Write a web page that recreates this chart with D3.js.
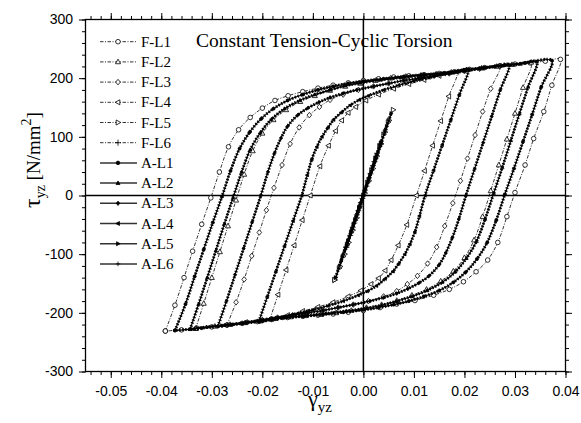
<!DOCTYPE html>
<html>
<head>
<meta charset="utf-8">
<script src="https://cdn.jsdelivr.net/npm/d3@7"></script>
<style>
  body { margin: 0; background: #fff; }
  svg { display: block; }
</style>
</head>
<body>
<script>
// loops: [gamma_yz, tau_yz], upper branch then lower branch
const fL1 = [[-0.0392,-231],[-0.0373,-187],[-0.0355,-140],[-0.0338,-95],[-0.0320,-49],[-0.0302,-4],[-0.0285,40],[-0.0267,83],[-0.0247,112],[-0.0224,133],[-0.0200,149],[-0.0175,162],[-0.0149,170],[-0.0120,177],[-0.0090,183],[-0.0060,188],[-0.0030,192],[0.0000,196],[0.0030,199],[0.0060,202],[0.0090,204],[0.0120,206],[0.0150,208],[0.0180,211],[0.0210,215],[0.0240,218],[0.0270,221],[0.0300,224],[0.0330,226],[0.0360,229],[0.0390,232],
  [0.0373,188],[0.0357,143],[0.0337,97],[0.0320,52],[0.0300,5],[0.0284,-36],[0.0266,-80],[0.0246,-110],[0.0223,-130],[0.0198,-147],[0.0170,-160],[0.0139,-170],[0.0102,-179],[0.0066,-185],[0.0033,-191],[0.0000,-196],[-0.0030,-199],[-0.0060,-202],[-0.0090,-204],[-0.0120,-206],[-0.0150,-208],[-0.0180,-211],[-0.0210,-215],[-0.0240,-218],[-0.0270,-221],[-0.0300,-224],[-0.0330,-226],[-0.0360,-229],[-0.0392,-231]];

const fL2 = [[-0.0332,-227],[-0.0316,-184],[-0.0300,-140],[-0.0284,-96],[-0.0268,-52],[-0.0252,-8],[-0.0236,36],[-0.0219,76],[-0.0200,106],[-0.0178,129],[-0.0153,146],[-0.0125,160],[-0.0096,170],[-0.0066,179],[-0.0036,186],[-0.0006,191],[0.0024,196],[0.0054,200],[0.0084,203],[0.0114,205],[0.0144,207],[0.0174,210],[0.0204,214],[0.0234,217],[0.0264,220],[0.0294,223],[0.0332,227],
  [0.0316,184],[0.0300,140],[0.0284,96],[0.0268,52],[0.0252,8],[0.0236,-36],[0.0219,-76],[0.0200,-106],[0.0178,-129],[0.0153,-146],[0.0125,-160],[0.0096,-170],[0.0066,-179],[0.0036,-186],[0.0006,-191],[-0.0024,-196],[-0.0054,-200],[-0.0084,-203],[-0.0114,-205],[-0.0144,-207],[-0.0174,-210],[-0.0204,-214],[-0.0234,-217],[-0.0264,-220],[-0.0294,-223],[-0.0332,-227]];

const fL3 = [[-0.0270,-221],[-0.0252,-182],[-0.0236,-143],[-0.0221,-103],[-0.0206,-63],[-0.0192,-25],[-0.0177,13],[-0.0161,52],[-0.0145,88],[-0.0127,116],[-0.0107,137],[-0.0087,151],[-0.0066,163],[-0.0040,172],[-0.0010,180],[0.0020,186],[0.0050,191],[0.0080,196],[0.0110,200],[0.0140,204],[0.0170,208],[0.0200,212],[0.0230,216],[0.0270,221],
  [0.0252,182],[0.0236,143],[0.0221,103],[0.0206,63],[0.0192,25],[0.0177,-13],[0.0161,-52],[0.0145,-88],[0.0127,-116],[0.0107,-137],[0.0087,-151],[0.0066,-163],[0.0040,-172],[0.0010,-180],[-0.0020,-186],[-0.0050,-191],[-0.0080,-196],[-0.0110,-200],[-0.0140,-204],[-0.0170,-208],[-0.0200,-212],[-0.0230,-216],[-0.0270,-221]];

const fL4 = [[-0.0185,-211],[-0.0169,-169],[-0.0153,-127],[-0.0137,-85],[-0.0121,-42],[-0.0105,0],[-0.0086,50],[-0.0069,85],[-0.0055,110],[-0.0043,128],[-0.0030,141],[-0.0015,151],[0.0005,162],[0.0030,172],[0.0060,182],[0.0090,190],[0.0120,197],[0.0150,204],[0.0185,211],
  [0.0169,169],[0.0153,127],[0.0137,85],[0.0121,42],[0.0105,0],[0.0086,-50],[0.0069,-85],[0.0055,-110],[0.0043,-128],[0.0030,-141],[0.0015,-151],[-0.0005,-162],[-0.0030,-172],[-0.0060,-182],[-0.0090,-190],[-0.0120,-197],[-0.0150,-204],[-0.0185,-211]];

const fL5 = [[-0.0057,-144],[-0.0048,-124],[-0.0040,-104],[-0.0032,-84],[-0.0024,-63],[-0.0016,-42],[-0.0008,-21],[0.0000,0],[0.0008,22],[0.0016,43],[0.0024,63],[0.0032,84],[0.0040,104],[0.0049,125],[0.0059,146],
  [0.0051,128],[0.0043,108],[0.0035,88],[0.0027,67],[0.0019,46],[0.0011,25],[0.0003,4],[-0.0005,-17],[-0.0013,-38],[-0.0021,-59],[-0.0029,-80],[-0.0037,-100],[-0.0046,-121],[-0.0057,-144]];

const fL6 = [[-0.0034,-88],[-0.0026,-68],[-0.0018,-47],[-0.0010,-26],[-0.0002,-5],[0.0006,16],[0.0014,37],[0.0022,58],[0.0034,88],
  [0.0027,72],[0.0019,51],[0.0011,30],[0.0003,9],[-0.0005,-12],[-0.0013,-33],[-0.0021,-54],[-0.0034,-88]];

const aL1 = [[-0.0373,-230],[-0.0352,-185],[-0.0334,-138],[-0.0316,-92],[-0.0298,-46],[-0.0280,-2],[-0.0263,42],[-0.0245,80],[-0.0225,108],[-0.0202,131],[-0.0178,148],[-0.0150,162],[-0.0120,172],[-0.0090,180],[-0.0060,186],[-0.0030,191],[0.0000,195],[0.0040,199],[0.0080,203],[0.0120,206],[0.0160,209],[0.0200,214],[0.0240,218],[0.0280,222],[0.0320,226],[0.0373,230],
  [0.0352,185],[0.0334,138],[0.0316,92],[0.0298,46],[0.0280,2],[0.0263,-42],[0.0245,-80],[0.0225,-108],[0.0202,-131],[0.0178,-148],[0.0150,-162],[0.0120,-172],[0.0090,-180],[0.0060,-186],[0.0030,-191],[0.0000,-195],[-0.0040,-199],[-0.0080,-203],[-0.0120,-206],[-0.0160,-209],[-0.0200,-214],[-0.0240,-218],[-0.0280,-222],[-0.0320,-226],[-0.0373,-230]];

const aL2 = [[-0.0343,-228],[-0.0326,-185],[-0.0309,-140],[-0.0292,-94],[-0.0275,-48],[-0.0258,-4],[-0.0241,40],[-0.0224,78],[-0.0204,107],[-0.0182,130],[-0.0156,148],[-0.0126,162],[-0.0096,172],[-0.0066,180],[-0.0036,187],[-0.0006,192],[0.0034,197],[0.0074,201],[0.0114,205],[0.0154,208],[0.0194,213],[0.0234,217],[0.0274,221],[0.0310,224],[0.0343,228],
  [0.0326,185],[0.0309,140],[0.0292,94],[0.0275,48],[0.0258,4],[0.0241,-40],[0.0224,-78],[0.0204,-107],[0.0182,-130],[0.0156,-148],[0.0126,-162],[0.0096,-172],[0.0066,-180],[0.0036,-187],[0.0006,-192],[-0.0034,-197],[-0.0074,-201],[-0.0114,-205],[-0.0154,-208],[-0.0194,-213],[-0.0234,-217],[-0.0274,-221],[-0.0310,-224],[-0.0343,-228]];

const aL3 = [[-0.0288,-223],[-0.0271,-180],[-0.0254,-135],[-0.0237,-90],[-0.0220,-45],[-0.0203,0],[-0.0189,40],[-0.0176,72],[-0.0163,98],[-0.0150,118],[-0.0130,137],[-0.0110,149],[-0.0088,159],[-0.0066,167],[-0.0040,174],[-0.0013,180],[0.0020,186],[0.0050,191],[0.0080,196],[0.0110,200],[0.0140,204],[0.0170,208],[0.0200,212],[0.0230,216],[0.0260,220],[0.0288,223],
  [0.0271,180],[0.0254,135],[0.0237,90],[0.0220,45],[0.0203,0],[0.0189,-40],[0.0176,-72],[0.0163,-98],[0.0150,-118],[0.0130,-137],[0.0110,-149],[0.0088,-159],[0.0066,-167],[0.0040,-174],[0.0013,-180],[-0.0020,-186],[-0.0050,-191],[-0.0080,-196],[-0.0110,-200],[-0.0140,-204],[-0.0170,-208],[-0.0200,-212],[-0.0230,-216],[-0.0260,-220],[-0.0288,-223]];

const aL4 = [[-0.0207,-215],[-0.0190,-172],[-0.0173,-129],[-0.0156,-86],[-0.0139,-43],[-0.0122,0],[-0.0111,35],[-0.0102,62],[-0.0092,83],[-0.0082,100],[-0.0070,116],[-0.0059,129],[-0.0043,142],[-0.0026,154],[-0.0008,163],[0.0010,170],[0.0040,180],[0.0070,188],[0.0100,195],[0.0130,201],[0.0160,207],[0.0185,211],[0.0207,215],
  [0.0190,172],[0.0173,129],[0.0156,86],[0.0139,43],[0.0122,0],[0.0111,-35],[0.0102,-62],[0.0092,-83],[0.0082,-100],[0.0070,-116],[0.0059,-129],[0.0043,-142],[0.0026,-154],[0.0008,-163],[-0.0010,-170],[-0.0040,-180],[-0.0070,-188],[-0.0100,-195],[-0.0130,-201],[-0.0160,-207],[-0.0185,-211],[-0.0207,-215]];

const aL5 = [[-0.0055,-140],[-0.0044,-112],[-0.0033,-85],[-0.0022,-57],[-0.0011,-29],[0.0000,-1],[0.0011,28],[0.0022,56],[0.0033,84],[0.0044,112],[0.0055,140],
  [0.0046,118],[0.0035,91],[0.0024,63],[0.0013,35],[0.0002,7],[-0.0009,-21],[-0.0020,-49],[-0.0031,-77],[-0.0042,-105],[-0.0055,-140]];

const aL6 = [[-0.0036,-92],[-0.0024,-62],[-0.0012,-31],[0.0000,0],[0.0012,31],[0.0024,62],[0.0036,92],
  [0.0026,68],[0.0014,37],[0.0002,6],[-0.0010,-25],[-0.0022,-56],[-0.0036,-92]];

const seriesNames = ["F-L1", "F-L2", "F-L3", "F-L4", "F-L5", "F-L6",
                     "A-L1", "A-L2", "A-L3", "A-L4", "A-L5", "A-L6"];

const xTicks = [-0.05, -0.04, -0.03, -0.02, -0.01, 0, 0.01, 0.02, 0.03, 0.04];
const xTickLabels = ["-0.05", "-0.04", "-0.03", "-0.02", "-0.01", "0.00", "0.01", "0.02", "0.03", "0.04"];
const yTicks = [-300, -200, -100, 0, 100, 200, 300];
const yTickLabels = ["-300", "-200", "-100", "0", "100", "200", "300"];

const chartTitle = "Constant Tension-Cyclic Torsion";

const margin = {top: 19.5, right: 15.5, bottom: 51.5, left: 85.5};
const width = 581 - margin.left - margin.right;
const height = 423 - margin.top - margin.bottom;

var seriesData = [fL1, fL2, fL3, fL4, fL5, fL6, aL1, aL2, aL3, aL4, aL5, aL6];
var markerKind = ["circle", "triUp", "diamond", "triLeft", "triRight", "plus"];

var svg = d3.select("body")
            .append("svg")
            .attr("width", 581)
            .attr("height", 423)
            .style("background", "#fff");

var x = d3.scaleLinear()
          .domain([-0.055, 0.04])
          .range([margin.left, margin.left + width]);

var y = d3.scaleLinear()
          .domain([-300, 300])
          .range([margin.top + height, margin.top]);

var sansFont = "'Liberation Sans', Arial, sans-serif";
var serifFont = "'Liberation Serif', 'Times New Roman', serif";

// marker shapes, centred on 0,0
function markerPath(kind, s) {
    if (kind == "circle") return d3.symbol(d3.symbolCircle, Math.PI * s * s)();
    if (kind == "triUp") return "M0," + (-s * 1.2) + "L" + (s * 1.1) + "," + (s * 0.8) + "L" + (-s * 1.1) + "," + (s * 0.8) + "Z";
    if (kind == "diamond") return "M0," + (-s * 1.2) + "L" + s + ",0L0," + (s * 1.2) + "L" + (-s) + ",0Z";
    if (kind == "triLeft") return "M" + (-s * 1.2) + ",0L" + (s * 0.8) + "," + (-s * 1.1) + "L" + (s * 0.8) + "," + (s * 1.1) + "Z";
    if (kind == "triRight") return "M" + (s * 1.2) + ",0L" + (-s * 0.8) + "," + (-s * 1.1) + "L" + (-s * 0.8) + "," + (s * 1.1) + "Z";
    return "M" + (-s * 1.3) + ",0H" + (s * 1.3) + "M0," + (-s * 1.3) + "V" + (s * 1.3);
}

// axes: major + minor ticks on all four sides, labels on left and bottom
function cleanAxis(g) {
    g.select(".domain").remove();
    g.selectAll("line").attr("stroke", "#000").attr("stroke-width", 1);
    g.selectAll("text")
     .attr("fill", "#000")
     .attr("font-family", sansFont)
     .attr("font-size", 14);
}

var xMinor = d3.range(-0.054, 0.0401, 0.002);
var yMinor = d3.range(-300, 301, 20);

var bottomY = margin.top + height;
var rightX = margin.left + width;

svg.append("g")
   .attr("transform", "translate(0," + bottomY + ")")
   .call(d3.axisBottom(x).tickValues(xMinor).tickSize(3.5).tickFormat(""))
   .call(cleanAxis);

svg.append("g")
   .attr("transform", "translate(0," + bottomY + ")")
   .call(d3.axisBottom(x).tickValues(xTicks).tickSize(6.5).tickPadding(8)
           .tickFormat(function(d) { return xTickLabels[xTicks.indexOf(d)]; }))
   .call(cleanAxis);

svg.append("g")
   .attr("transform", "translate(0," + margin.top + ")")
   .call(d3.axisTop(x).tickValues(xMinor).tickSize(3.5).tickFormat(""))
   .call(cleanAxis);

svg.append("g")
   .attr("transform", "translate(0," + margin.top + ")")
   .call(d3.axisTop(x).tickValues(xTicks).tickSize(6.5).tickFormat(""))
   .call(cleanAxis);

svg.append("g")
   .attr("transform", "translate(" + margin.left + ",0)")
   .call(d3.axisLeft(y).tickValues(yMinor).tickSize(3.5).tickFormat(""))
   .call(cleanAxis);

svg.append("g")
   .attr("transform", "translate(" + margin.left + ",0)")
   .call(d3.axisLeft(y).tickValues(yTicks).tickSize(6.5).tickPadding(6)
           .tickFormat(function(d) { return yTickLabels[yTicks.indexOf(d)]; }))
   .call(cleanAxis);

svg.append("g")
   .attr("transform", "translate(" + rightX + ",0)")
   .call(d3.axisRight(y).tickValues(yMinor).tickSize(3.5).tickFormat(""))
   .call(cleanAxis);

svg.append("g")
   .attr("transform", "translate(" + rightX + ",0)")
   .call(d3.axisRight(y).tickValues(yTicks).tickSize(6.5).tickFormat(""))
   .call(cleanAxis);

// frame
svg.append("rect")
   .attr("x", margin.left)
   .attr("y", margin.top)
   .attr("width", width)
   .attr("height", height)
   .attr("fill", "none")
   .attr("stroke", "#000")
   .attr("stroke-width", 1.3);

// zero cross lines
svg.append("line")
   .attr("x1", x(0)).attr("x2", x(0))
   .attr("y1", margin.top).attr("y2", bottomY)
   .attr("stroke", "#000").attr("stroke-width", 1.5);

svg.append("line")
   .attr("x1", margin.left).attr("x2", rightX)
   .attr("y1", y(0)).attr("y2", y(0))
   .attr("stroke", "#000").attr("stroke-width", 1.5);

var line = d3.line()
             .x(function(d) { return x(d[0]); })
             .y(function(d) { return y(d[1]); })
             .curve(d3.curveCatmullRom.alpha(0.5));

var plot = svg.append("g");

// F series: dash-dot with open markers
for (var i = 0; i < 6; i++) {
    plot.append("path")
        .attr("d", line(seriesData[i]))
        .attr("fill", "none")
        .attr("stroke", "#000")
        .attr("stroke-width", 0.8)
        .attr("stroke-dasharray", "3.5,1.5,1,1.5");

    plot.selectAll(".fm" + i)
        .data(seriesData[i])
        .enter()
        .append("path")
        .attr("class", "fm" + i)
        .attr("transform", function(d) { return "translate(" + x(d[0]) + "," + y(d[1]) + ")"; })
        .attr("d", markerPath(markerKind[i], 2.3))
        .attr("fill", "#fff")
        .attr("stroke", "#000")
        .attr("stroke-width", 0.8);
}

// A series: solid with dense filled markers
for (var j = 6; j < 12; j++) {
    plot.append("path")
        .attr("d", line(seriesData[j]))
        .attr("fill", "none")
        .attr("stroke", "#000")
        .attr("stroke-width", 1.1);

    plot.append("path")
        .attr("d", line(seriesData[j]))
        .attr("fill", "none")
        .attr("stroke", "#000")
        .attr("stroke-width", 3)
        .attr("stroke-dasharray", "1.4,1.6");

    plot.selectAll(".am" + j)
        .data(seriesData[j])
        .enter()
        .append("path")
        .attr("class", "am" + j)
        .attr("transform", function(d) { return "translate(" + x(d[0]) + "," + y(d[1]) + ")"; })
        .attr("d", markerPath(markerKind[j - 6], 1.6))
        .attr("fill", "#000")
        .attr("stroke", "#000")
        .attr("stroke-width", 0.6);
}

// legend
var legend = svg.append("g");

seriesNames.forEach(function(name, k) {
    var ly = 41.7 + k * 20.2;
    var isF = k < 6;

    legend.append("line")
          .attr("x1", 100).attr("x2", 137)
          .attr("y1", ly).attr("y2", ly)
          .attr("stroke", isF ? "#000" : "#333")
          .attr("stroke-width", isF ? 0.8 : 1.5)
          .attr("stroke-dasharray", isF ? "3.5,1.5,1,1.5" : null);

    legend.append("path")
          .attr("transform", "translate(118," + ly + ")")
          .attr("d", markerPath(markerKind[k % 6], isF ? 2.3 : 1.8))
          .attr("fill", isF ? "#fff" : "#000")
          .attr("stroke", "#000")
          .attr("stroke-width", 0.8);

    legend.append("text")
          .attr("x", 141)
          .attr("y", ly + 5)
          .attr("font-family", serifFont)
          .attr("font-size", 15)
          .text(name);
});

// title
svg.append("text")
   .attr("x", 196)
   .attr("y", 47)
   .attr("font-family", serifFont)
   .attr("font-size", 19.5)
   .text(chartTitle);

// axis titles
var yTitle = svg.append("text")
                .attr("transform", "translate(40,208) rotate(-90)")
                .attr("font-family", serifFont)
                .attr("font-size", 19);
yTitle.append("tspan").attr("font-size", 24).text("τ");
yTitle.append("tspan").attr("font-size", 14).attr("dy", 5).text("yz");
yTitle.append("tspan").attr("dy", -5).text(" [N/mm");
yTitle.append("tspan").attr("font-size", 14).attr("dy", -9).text("2");
yTitle.append("tspan").attr("dy", 9).text("]");

var xTitle = svg.append("text")
                .attr("x", 308)
                .attr("y", 406)
                .attr("font-family", serifFont)
                .attr("font-size", 22);
xTitle.append("tspan").text("γ");
xTitle.append("tspan").attr("font-size", 15).attr("dy", 6).text("yz");
</script>
</body>
</html>
